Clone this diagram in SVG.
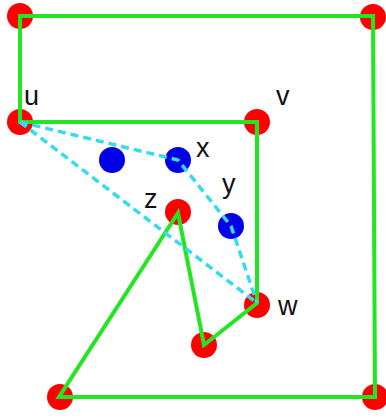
<svg xmlns="http://www.w3.org/2000/svg" width="386" height="419" viewBox="0 0 386 419">
<style>
.red{fill:#ff0000}
.blue{fill:#0000e6}
.g{fill:none;stroke:#22e622;stroke-width:4;stroke-linejoin:miter}
.d{fill:none;stroke:#33ddee;stroke-width:3.5;stroke-dasharray:8 5}
text{font-family:"Liberation Sans",Arial,sans-serif;font-size:27px;fill:#111}
</style>
<rect width="386" height="419" fill="#ffffff"/>
<g id="nodes-red">
<g id="n-tl"><circle class="red" cx="20" cy="16" r="13"/></g>
<g id="n-tr"><circle class="red" cx="373" cy="17" r="13"/></g>
<g id="n-u"><circle class="red" cx="20" cy="122" r="13"/><text x="24" y="105">u</text></g>
<g id="n-v"><circle class="red" cx="257" cy="122" r="13"/><text x="276" y="105">v</text></g>
<g id="n-z"><circle class="red" cx="178" cy="212" r="13"/><text x="144" y="208">z</text></g>
<g id="n-w"><circle class="red" cx="257" cy="305" r="13"/><text x="278" y="315">w</text></g>
<g id="n-m"><circle class="red" cx="204" cy="345" r="13"/></g>
<g id="n-bl"><circle class="red" cx="60" cy="397" r="13"/></g>
<g id="n-br"><circle class="red" cx="375" cy="397" r="13"/></g>
</g>
<g id="nodes-blue">
<g id="n-b1"><circle class="blue" cx="112" cy="160" r="13"/></g>
<g id="n-x"><circle class="blue" cx="178" cy="160" r="13"/><text x="196" y="157">x</text></g>
<g id="n-y"><circle class="blue" cx="231" cy="226" r="13"/><text x="222" y="193">y</text></g>
</g>
<g id="connectors">
<polygon class="g" points="20,16 373,16 375,397 59,397 178,213 204,345 257,303 257,122 20,122"/>
<polyline class="d" points="20,122 178,160 231,226 257,303"/>
<line class="d" x1="20" y1="122" x2="257" y2="303"/>
</g>
</svg>
